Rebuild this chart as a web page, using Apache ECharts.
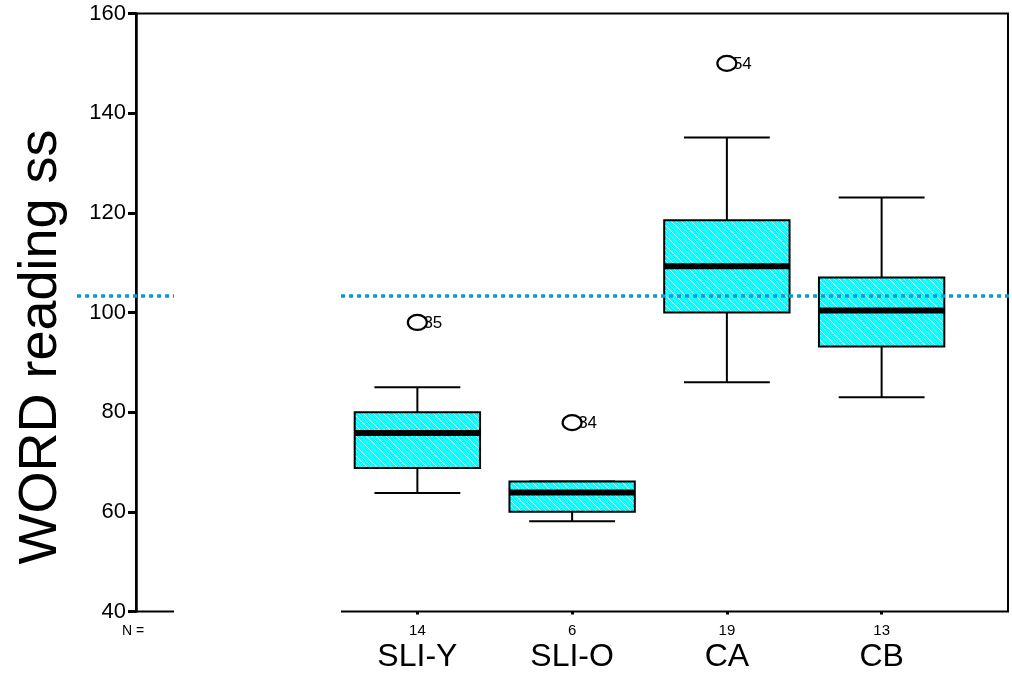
<!DOCTYPE html>
<html>
<head>
<meta charset="utf-8">
<script src="https://cdn.jsdelivr.net/npm/echarts@6/dist/echarts.min.js"></script>
<style>html,body{margin:0;padding:0;background:#fff;}#c{width:1012px;height:680px;}</style>
</head>
<body>
<div id="c"></div>
<script>
// ---- data ----
const categories = ['SLI-Y', 'SLI-O', 'CA', 'CB'];
const counts = [14, 6, 19, 13];
const whiskerLow = [63.8, 58.1, 86.0, 83.0];
const q1 = [68.8, 60.0, 100.0, 93.2];
const medians = [75.8, 63.9, 109.3, 100.4];
const q3 = [80.0, 66.1, 118.5, 107.0];
const whiskerHigh = [85.0, 66.1, 135.1, 123.1];
const outlierCategory = [0, 1, 2];
const outlierValues = [98.0, 77.9, 150.0];
const outlierLabels = ['35', '34', '54'];
const referenceValue = 103.3;
const yTicks = { min: 40, max: 160, interval: 20 };

const FONT = "'Liberation Sans', Arial, sans-serif";
const INK = '#000';

// hatch pattern (cyan with fine white diagonals)
const tile = document.createElement('canvas');
tile.width = 5; tile.height = 5;
const tctx = tile.getContext('2d');
tctx.fillStyle = '#00ffff';
tctx.fillRect(0, 0, 5, 5);
tctx.fillStyle = 'rgba(255,255,255,0.8)';
for (let k = 0; k < 5; k++) tctx.fillRect(k, k, 1, 1);
const hatch = { image: tile, repeat: 'repeat' };

const boxData = categories.map((c, i) => [i, whiskerLow[i], q1[i], medians[i], q3[i], whiskerHigh[i]]);
const outlierData = outlierCategory.map((c, i) => [c, outlierValues[i]]);

function renderBox(params, api) {
  const i = api.value(0);
  const band = api.size([1, 0])[0];
  const boxW = band * 0.81, capW = band * 0.555;
  const pLow = api.coord([i, api.value(1)]);
  const pQ1 = api.coord([i, api.value(2)]);
  const pMed = api.coord([i, api.value(3)]);
  const pQ3 = api.coord([i, api.value(4)]);
  const pHigh = api.coord([i, api.value(5)]);
  const cx = pLow[0];
  const ls = { stroke: INK, lineWidth: 2 };
  const children = [
    { type: 'line', shape: { x1: cx, y1: pHigh[1], x2: cx, y2: pQ3[1] }, style: ls },
    { type: 'line', shape: { x1: cx, y1: pQ1[1], x2: cx, y2: pLow[1] }, style: ls },
    { type: 'line', shape: { x1: cx - capW / 2, y1: pHigh[1], x2: cx + capW / 2, y2: pHigh[1] }, style: ls },
    { type: 'line', shape: { x1: cx - capW / 2, y1: pLow[1], x2: cx + capW / 2, y2: pLow[1] }, style: ls },
    { type: 'rect', shape: { x: cx - boxW / 2, y: pQ3[1], width: boxW, height: pQ1[1] - pQ3[1] },
      style: { fill: hatch, stroke: INK, lineWidth: 2 } },
    { type: 'line', shape: { x1: cx - boxW / 2, y1: pMed[1], x2: cx + boxW / 2, y2: pMed[1] },
      style: { stroke: '#000', lineWidth: 6 } }
  ];
  return { type: 'group', children };
}

function renderOutlier(params, api) {
  const p = api.coord([api.value(0), api.value(1)]);
  return {
    type: 'group',
    children: [
      { type: 'text', x: p[0] + 6, y: p[1] + 1,
        style: { text: outlierLabels[params.dataIndex], fill: INK, font: '17px ' + FONT,
                 textAlign: 'left', textVerticalAlign: 'middle' } },
      { type: 'ellipse', shape: { cx: p[0], cy: p[1], rx: 9.5, ry: 7.5 },
        style: { fill: '#fff', stroke: INK, lineWidth: 2.2 } }
    ]
  };
}

function renderRef(params, api) {
  const p = api.coord([0, api.value(1)]);
  return {
    type: 'line',
    shape: { x1: 77, y1: p[1], x2: 1012, y2: p[1] },
    style: { stroke: '#0a9ad2', lineWidth: 3.5, lineDash: [4, 4] }
  };
}

const chart = echarts.init(document.getElementById('c'), null, { renderer: 'canvas' });
chart.setOption({
  animation: false,
  backgroundColor: '#fff',
  grid: [
    { left: 136, right: 4, top: 13.5, bottom: 68.5, show: true, borderColor: INK, borderWidth: 2, backgroundColor: 'transparent' },
    { left: 340, right: 53, top: 13.5, bottom: 68.5 }
  ],
  xAxis: [
    { type: 'value', gridIndex: 0, show: false, min: 0, max: 1 },
    { type: 'category', gridIndex: 1, data: categories, boundaryGap: true,
      axisLine: { show: false },
      axisTick: { show: true, alignWithLabel: true, length: 3, lineStyle: { color: INK, width: 3 } },
      axisLabel: {
        interval: 0, margin: 9,
        formatter: (v, idx) => '{n|' + counts[idx] + '}\n{c|' + v + '}',
        rich: {
          n: { fontSize: 15, lineHeight: 20, color: INK, fontFamily: FONT },
          c: { fontSize: 32, lineHeight: 33, color: INK, fontFamily: FONT }
        }
      },
      splitLine: { show: false }
    }
  ],
  yAxis: [
    { type: 'value', gridIndex: 0, min: yTicks.min, max: yTicks.max, interval: yTicks.interval,
      axisLine: { show: true, lineStyle: { color: INK, width: 2.5 } },
      axisTick: { show: true, length: 8, lineStyle: { color: INK, width: 3 } },
      axisLabel: { fontSize: 22, color: INK, fontFamily: FONT, margin: 10, padding: [6, 0, 0, 0] },
      splitLine: { show: false }
    },
    { type: 'value', gridIndex: 1, min: yTicks.min, max: yTicks.max, interval: yTicks.interval, show: false }
  ],
  series: [
    { type: 'custom', xAxisIndex: 1, yAxisIndex: 1, data: boxData, renderItem: renderBox,
      encode: { x: 0, y: [1, 2, 3, 4, 5] }, z: 2, clip: false },
    { type: 'custom', xAxisIndex: 1, yAxisIndex: 1, data: outlierData, renderItem: renderOutlier,
      encode: { x: 0, y: 1 }, z: 3, clip: false },
    { type: 'custom', xAxisIndex: 1, yAxisIndex: 1, data: [[0, referenceValue]], renderItem: renderRef,
      encode: { x: 0, y: 1 }, z: 4, clip: false }
  ],
  graphic: [
    { type: 'rect', z: 100, shape: { x: 174, y: 270, width: 167, height: 345 }, style: { fill: '#fff' } },
    { type: 'text', z: 101, x: 41, y: 347, rotation: Math.PI / 2,
      style: { text: 'WORD reading ss', font: '54px ' + FONT, fill: INK, textAlign: 'center', textVerticalAlign: 'middle' } },
    { type: 'text', z: 101, x: 133, y: 631,
      style: { text: 'N =', font: '14px ' + FONT, fill: INK, textAlign: 'center', textVerticalAlign: 'middle' } }
  ]
});
</script>
</body>
</html>
